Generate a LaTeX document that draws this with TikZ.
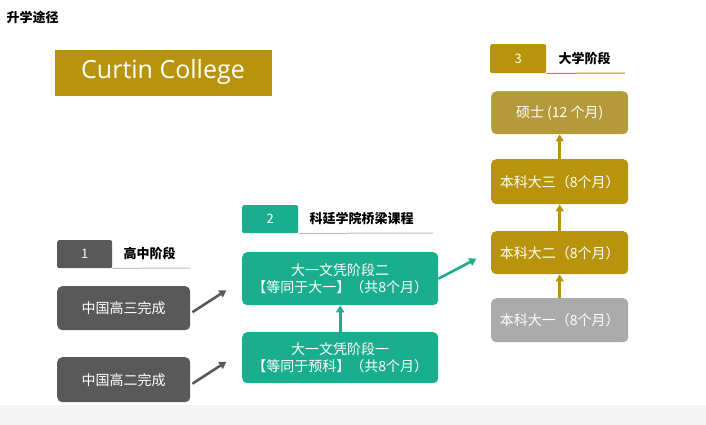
\documentclass[tikz,border=0pt]{standalone}
\usepackage{fontspec}
\setmainfont{Noto Sans CJK SC}
\newfontfamily\logofont{Open Sans}
\usetikzlibrary{arrows.meta}
\definecolor{darkgrey}{HTML}{595959}
\definecolor{teal}{HTML}{1AAE8F}
\definecolor{gold}{HTML}{B8940C}
\definecolor{lightgold}{HTML}{B59A3C}
\definecolor{lightgrey}{HTML}{ABABAB}
\tikzset{
    box/.style = {rounded corners=5pt, text=white, align=center,
                  font=\fontsize{14}{17}\selectfont, inner sep=0pt},
    tab/.style = {rounded corners=2pt, text=white, font=\fontsize{13}{15}\selectfont, inner sep=0pt},
    head/.style = {font=\fontsize{13}{15}\selectfont\bfseries, anchor=west},
    link/.style = {-{Triangle[length=7pt,width=8pt]}, line width=2.6pt},
}
\begin{document}
\begin{tikzpicture}[x=1pt, y=-1pt]
\useasboundingbox (0,0) rectangle (706,425);
\fill[gray!8] (0,405) rectangle (706,425);

%title
\node[anchor=west, font=\fontsize{13}{15}\selectfont\bfseries] (title) at (3,17) {升学途径};

% logo
\fill[gold] (55,50) rectangle (272,96);
\node[text=white, font=\fontsize{25}{28}\selectfont\logofont] (logo) at (163,72) {Curtin College};

% Etapa 1
\node[tab, fill=darkgrey, minimum width=55pt, minimum height=28pt, anchor=north west] (t1) at (57,240) {1};
\node[head] (h1) at (120,253) {高中阶段};
\draw[gray!50, line width=1pt] (t1.south east) -- (190,268);
\node[box, fill=darkgrey, minimum width=133pt, minimum height=44pt, anchor=north west] (g3) at (57,286) {中国高三完成};
\node[box, fill=darkgrey, minimum width=133pt, minimum height=45pt, anchor=north west] (g2) at (57,357) {中国高二完成};

% Etapa 2
\node[tab, fill=teal, minimum width=56pt, minimum height=28pt, anchor=north west] (t2) at (242,205) {2};
\node[head] (h2) at (306,218) {科廷学院桥梁课程};
\draw[gray!50, line width=1pt] (t2.south east) -- (433,233);
\node[box, fill=teal, minimum width=196pt, minimum height=53pt, anchor=north west] (b2) at (242,252) {大一文凭阶段二\\【等同于大一】（共8个月）};
\node[box, fill=teal, minimum width=196pt, minimum height=51pt, anchor=north west] (b1) at (242,332) {大一文凭阶段一\\【等同于预科】（共8个月）};

% Etapa 3
\node[tab, fill=gold, minimum width=56pt, minimum height=29pt, anchor=north west] (t3) at (490,44) {3};
\node[head] (h3) at (555,58) {大学阶段};
\draw[gold, line width=1pt] (t3.south east) -- (625,73);
\node[box, fill=lightgold, draw=white, densely dotted, minimum width=137pt, minimum height=43pt, anchor=north west] (ms) at (491,91) {硕士 (12 个月)};
\node[box, fill=gold, minimum width=137pt, minimum height=45pt, anchor=north west] (y3) at (491,159) {本科大三（8个月）};
\node[box, fill=gold, minimum width=137pt, minimum height=43pt, anchor=north west] (y2) at (491,231) {本科大二（8个月）};
\node[box, fill=lightgrey, minimum width=137pt, minimum height=44pt, anchor=north west] (y1) at (491,298) {本科大一（8个月）};

% Flechas
\draw[link, darkgrey] (g3.east) ++(2,4) -- ++(34,-22);
\draw[link, darkgrey] (g2.east) ++(2,4) -- ++(34,-22);
\draw[link, teal] (b1.north) -- (b2.south);
\draw[link, teal] (b2.east) -- ++(38,-20);
\draw[link, gold] (y1.north) -- (y2.south);
\draw[link, gold] (y2.north) -- (y3.south);
\draw[link, gold] (y3.north) -- (ms.south);
\end{tikzpicture}
\end{document}
